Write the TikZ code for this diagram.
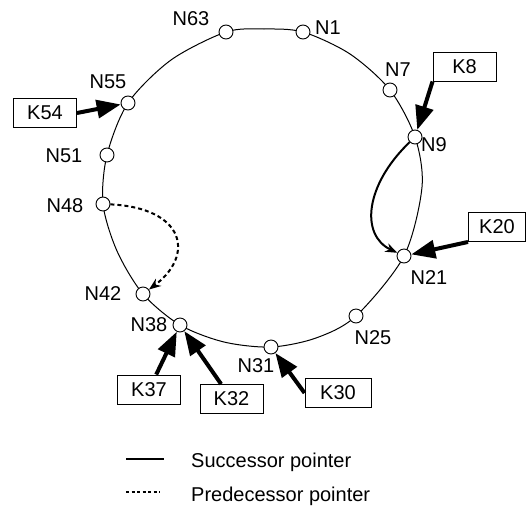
\documentclass[tikz,border=0pt]{standalone}
\usepackage{fontspec}
\setmainfont{Liberation Sans}
\usetikzlibrary{arrows.meta,calc}
\begin{document}
\begin{tikzpicture}[x=1pt,y=-1pt,
  ringnode/.style={circle,draw,fill=white,minimum size=14pt,inner sep=0pt,line width=0.9pt},
  lbl/.style={font=\fontsize{20}{24}\selectfont,inner sep=0pt},
  keybox/.style={draw,line width=0.9pt,minimum width=63pt,minimum height=29pt,inner sep=0pt,font=\fontsize{20}{24}\selectfont},
  keyarrow/.style={line width=4pt,-{Triangle[length=24pt,width=18pt]}},
  succ/.style={line width=2pt,-{Stealth[length=12pt,width=9pt]}},
  pred/.style={line width=2pt,dash pattern=on 4pt off 3pt,-{Stealth[length=12pt,width=9pt]}},
  ring/.style={line width=1pt}]
\useasboundingbox (0,0) rectangle (526,506);
\draw[ring] plot[smooth cycle] coordinates {(303,32) (350,54) (390,90) (415,137) (422,187) (404,256) (356,316) (316,338) (271,347) (224,342) (180,325) (143,294) (117,251) (103,204) (107,155) (128,103) (171,60) (226,32) (264,29)};
% ring nodes
\node[ringnode] (N1) at (303,32) {};
\node[ringnode] (N7) at (390,90) {};
\node[ringnode] (N9) at (415,137) {};
\node[ringnode] (N21) at (404,256) {};
\node[ringnode] (N25) at (356,316) {};
\node[ringnode] (N31) at (271,347) {};
\node[ringnode] (N38) at (180,325) {};
\node[ringnode] (N42) at (143,294) {};
\node[ringnode] (N48) at (103,204) {};
\node[ringnode] (N51) at (107,155) {};
\node[ringnode] (N55) at (128,103) {};
\node[ringnode] (N63) at (226,32) {};
% labels
\node[lbl] (L1) at (328,28) {N1};
\node[lbl] (L7) at (398,70) {N7};
\node[lbl] (L9) at (434,145) {N9};
\node[lbl] (L21) at (429,278) {N21};
\node[lbl] (L25) at (373,338) {N25};
\node[lbl] (L31) at (256,366) {N31};
\node[lbl] (L38) at (149,325) {N38};
\node[lbl] (L42) at (103,294) {N42};
\node[lbl] (L48) at (65,206) {N48};
\node[lbl] (L51) at (64,156) {N51};
\node[lbl] (L55) at (108,82) {N55};
\node[lbl] (L63) at (191,19) {N63};
% key boxes
\node[keybox] (K54) at (45,113) {K54};
\node[keybox] (K8) at (464.5,66.5) {K8};
\node[keybox,minimum width=57pt] (K20) at (497,227) {K20};
\node[keybox] (K37) at (149,389.5) {K37};
\node[keybox] (K32) at (231.5,399) {K32};
\node[keybox,minimum width=66pt] (K30) at (338,393) {K30};
% key arrows
\draw[keyarrow] (K54.east) -- (N55);
\draw[keyarrow] (K8.south west) -- (N9);
\draw[keyarrow] (K20.south west) -- (N21);
\draw[keyarrow] (K37) -- (N38);
\draw[keyarrow] (K32) -- (N38);
\draw[keyarrow] (K30.west) -- (N31);
% pointers
\draw[succ] (N9) .. controls (365,185) and (360,235) .. (N21);
\draw[pred] (N48) .. controls (185,208) and (195,255) .. (N42);
% legend
\coordinate (s1) at (126,459); \coordinate (s2) at (164,459);
\coordinate (d1) at (126,492); \coordinate (d2) at (160,492);
\draw[line width=2pt] (s1) -- (s2);
\draw[line width=1.5pt,dash pattern=on 3pt off 2.5pt] (d1) -- (d2);
\node[lbl,anchor=base west] (lsucc) at (191,467) {Successor pointer};
\node[lbl,anchor=base west] (lpred) at (191,501) {Predecessor pointer};
\end{tikzpicture}
\end{document}
